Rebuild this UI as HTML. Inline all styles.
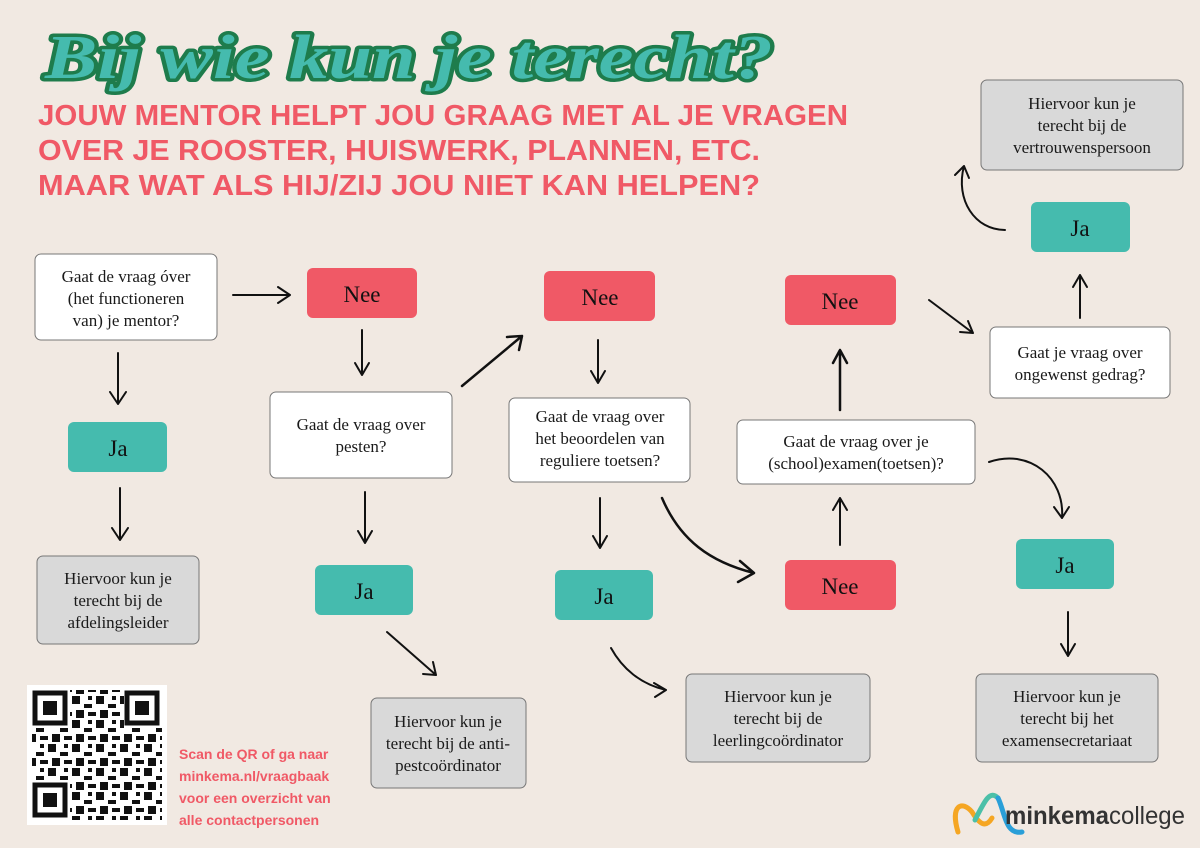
<!DOCTYPE html>
<html><head><meta charset="utf-8"><style>
html,body{margin:0;padding:0;background:#f1e9e2;}
svg{display:block}
.t{font-family:"Liberation Serif",serif;font-size:17px;fill:#1a1a1a;text-anchor:middle}
.b{font-family:"Liberation Serif",serif;font-size:23px;fill:#111;text-anchor:middle}
.w{fill:#fff;stroke:#777;stroke-width:1}
.g{fill:#d9d9d9;stroke:#777;stroke-width:1}
.r{fill:#f05966}
.j{fill:#45bbae}
.a{fill:none;stroke:#111;stroke-width:2;stroke-linecap:round;stroke-linejoin:round}
</style></head><body>
<svg width="1200" height="848" viewBox="0 0 1200 848" xmlns="http://www.w3.org/2000/svg">
<rect width="1200" height="848" fill="#f1e9e2"/>
<text x="45" y="78" textLength="728" lengthAdjust="spacingAndGlyphs" font-family="Liberation Serif,serif" font-weight="bold" font-style="italic" font-size="62" fill="#45bbae" stroke="#1e7c4c" stroke-width="7" paint-order="stroke" stroke-linejoin="round">Bij wie kun je terecht?</text>
<g font-family="Liberation Sans,sans-serif" font-weight="bold" font-size="29" fill="#f05966">
<text x="38" y="125" textLength="810" lengthAdjust="spacingAndGlyphs">JOUW MENTOR HELPT JOU GRAAG MET AL JE VRAGEN</text>
<text x="38" y="160" textLength="722" lengthAdjust="spacingAndGlyphs">OVER JE ROOSTER, HUISWERK, PLANNEN, ETC.</text>
<text x="38" y="195" textLength="722" lengthAdjust="spacingAndGlyphs">MAAR WAT ALS HIJ/ZIJ JOU NIET KAN HELPEN?</text>
</g>
<rect class="w" x="35" y="254" width="182" height="86" rx="6"/>
<text class="t"><tspan x="126" y="282">Gaat de vraag óver</tspan><tspan x="126" y="304">(het functioneren</tspan><tspan x="126" y="326">van) je mentor?</tspan></text>
<rect class="r" x="307" y="268" width="110" height="50" rx="6"/><text class="b" x="362" y="302">Nee</text>
<rect class="j" x="68" y="422" width="99" height="50" rx="6"/><text class="b" x="118" y="456">Ja</text>
<rect class="g" x="37" y="556" width="162" height="88" rx="6"/>
<text class="t"><tspan x="118" y="584">Hiervoor kun je</tspan><tspan x="118" y="606">terecht bij de</tspan><tspan x="118" y="628">afdelingsleider</tspan></text>

<rect class="w" x="270" y="392" width="182" height="86" rx="6"/>
<text class="t"><tspan x="361" y="430">Gaat de vraag over</tspan><tspan x="361" y="452">pesten?</tspan></text>
<rect class="j" x="315" y="565" width="98" height="50" rx="6"/><text class="b" x="364" y="599">Ja</text>
<rect class="g" x="371" y="698" width="155" height="90" rx="6"/>
<text class="t"><tspan x="448" y="727">Hiervoor kun je</tspan><tspan x="448" y="749">terecht bij de anti-</tspan><tspan x="448" y="771">pestcoördinator</tspan></text>

<rect class="r" x="544" y="271" width="111" height="50" rx="6"/><text class="b" x="600" y="305">Nee</text>
<rect class="w" x="509" y="398" width="181" height="84" rx="6"/>
<text class="t"><tspan x="600" y="422">Gaat de vraag over</tspan><tspan x="600" y="444">het beoordelen van</tspan><tspan x="600" y="466">reguliere toetsen?</tspan></text>
<rect class="j" x="555" y="570" width="98" height="50" rx="6"/><text class="b" x="604" y="604">Ja</text>
<rect class="g" x="686" y="674" width="184" height="88" rx="6"/>
<text class="t"><tspan x="778" y="702">Hiervoor kun je</tspan><tspan x="778" y="724">terecht bij de</tspan><tspan x="778" y="746">leerlingcoördinator</tspan></text>

<rect class="r" x="785" y="560" width="111" height="50" rx="6"/><text class="b" x="840" y="594">Nee</text>
<rect class="w" x="737" y="420" width="238" height="64" rx="6"/>
<text class="t"><tspan x="856" y="447">Gaat de vraag over je</tspan><tspan x="856" y="469">(school)examen(toetsen)?</tspan></text>
<rect class="r" x="785" y="275" width="111" height="50" rx="6"/><text class="b" x="840" y="309">Nee</text>

<rect class="w" x="990" y="327" width="180" height="71" rx="6"/>
<text class="t"><tspan x="1080" y="358">Gaat je vraag over</tspan><tspan x="1080" y="380">ongewenst gedrag?</tspan></text>
<rect class="j" x="1031" y="202" width="99" height="50" rx="6"/><text class="b" x="1080" y="236">Ja</text>
<rect class="g" x="981" y="80" width="202" height="90" rx="6"/>
<text class="t"><tspan x="1082" y="109">Hiervoor kun je</tspan><tspan x="1082" y="131">terecht bij de</tspan><tspan x="1082" y="153">vertrouwenspersoon</tspan></text>

<rect class="j" x="1016" y="539" width="98" height="50" rx="6"/><text class="b" x="1065" y="573">Ja</text>
<rect class="g" x="976" y="674" width="182" height="88" rx="6"/>
<text class="t"><tspan x="1067" y="702">Hiervoor kun je</tspan><tspan x="1067" y="724">terecht bij het</tspan><tspan x="1067" y="746">examensecretariaat</tspan></text>

<g class="a">
<path d="M233 295H290M278 287L290 295L278 303"/>
<path d="M118 353V404M110 392L118 404L126 392"/>
<path d="M120 488V540M112 528L120 540L128 528"/>
<path d="M362 330V375M355 363L362 375L369 363"/>
<path d="M462 386L522 336M507 337L522 336L519 350" stroke-width="2.5"/>
<path d="M365 492V543M358 531L365 543L372 531"/>
<path d="M387 632L436 675M423 674L436 675L433 662"/>
<path d="M598 340V383M591 371L598 383L605 371"/>
<path d="M600 498V548M593 536L600 548L607 536"/>
<path d="M662 498C680 540 710 562 754 573M740 561L754 573L738 582" stroke-width="2.5"/>
<path d="M611 648C622 668 640 684 666 690M654 683L666 690L655 697"/>
<path d="M840 545V498M833 510L840 498L847 510"/>
<path d="M840 410V350M833 363L840 350L847 363" stroke-width="2.5"/>
<path d="M929 300L973 333M960 332L973 333L968 321"/>
<path d="M1080 318V275M1073 287L1080 275L1087 287"/>
<path d="M1005 230C975 230 955 200 964 166M955 175L964 166L969 178"/>
<path d="M989 462C1030 448 1065 478 1062 518M1054 507L1062 518L1069 507"/>
<path d="M1068 612V656M1061 644L1068 656L1075 644"/>
</g>

<rect x="27" y="685" width="140" height="140" fill="#fff"/>
<defs><pattern id="qp" width="24" height="24" patternUnits="userSpaceOnUse">
<rect x="0" y="0" width="8" height="8" fill="#111"/><rect x="12" y="8" width="8" height="4" fill="#111"/><rect x="4" y="14" width="8" height="8" fill="#111"/><rect x="16" y="0" width="4" height="4" fill="#111"/><rect x="16" y="16" width="8" height="4" fill="#111"/></pattern></defs>
<rect x="32" y="690" width="130" height="130" fill="url(#qp)"/>
<g fill="#fff"><rect x="32" y="690" width="38" height="38"/><rect x="124" y="690" width="38" height="38"/><rect x="32" y="782" width="38" height="38"/></g>
<g fill="none" stroke="#111" stroke-width="5"><rect x="35" y="693" width="30" height="30"/><rect x="127" y="693" width="30" height="30"/><rect x="35" y="785" width="30" height="30"/></g>
<g fill="#111"><rect x="43" y="701" width="14" height="14"/><rect x="135" y="701" width="14" height="14"/><rect x="43" y="793" width="14" height="14"/></g>

<g font-family="Liberation Sans,sans-serif" font-weight="bold" font-size="14" fill="#f05966">
<text x="179" y="759">Scan de QR of ga naar</text>
<text x="179" y="781">minkema.nl/vraagbaak</text>
<text x="179" y="803">voor een overzicht van</text>
<text x="179" y="825">alle contactpersonen</text>
</g>

<path d="M958 832C950 805 962 800 972 812C980 825 986 828 992 818" fill="none" stroke="#f5a623" stroke-width="5" stroke-linecap="round"/>
<path d="M975 820C985 800 990 790 998 798" fill="none" stroke="#4cc0a8" stroke-width="5" stroke-linecap="round"/>
<path d="M998 798C1005 812 1005 835 1022 832" fill="none" stroke="#2a9fd8" stroke-width="5" stroke-linecap="round"/>
<text x="1005" y="824" textLength="180" lengthAdjust="spacingAndGlyphs" font-family="Liberation Sans,sans-serif" font-size="25" fill="#333"><tspan font-weight="bold">minkema</tspan><tspan>college</tspan></text>
</svg>
</body></html>
